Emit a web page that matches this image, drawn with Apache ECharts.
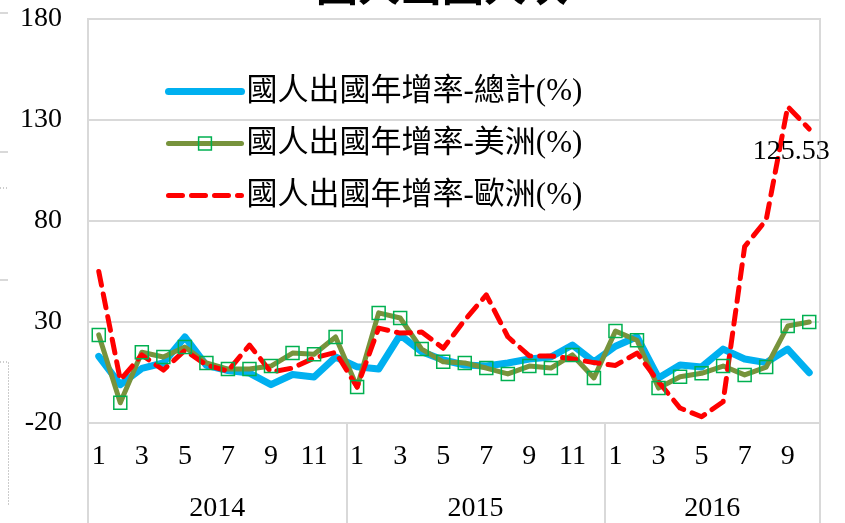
<!DOCTYPE html>
<html>
<head>
    <meta charset="utf-8" />
    <title>國人出國人次</title>
    <script src="https://cdn.jsdelivr.net/npm/echarts@6/dist/echarts.min.js"></script>
    <style type="text/css">
        html, body {
            margin: 0;
            padding: 0;
            background-color: #fff;
        }

        #charts {
            width: 845px;
            height: 523px;
        }
    </style>
</head>
<body>
    <div id="charts"></div>
    <script type="text/javascript">
        // 月份 (2014/01 ~ 2016/10)
        var months = ['1', '2', '3', '4', '5', '6', '7', '8', '9', '10', '11', '12',
            '1', '2', '3', '4', '5', '6', '7', '8', '9', '10', '11', '12',
            '1', '2', '3', '4', '5', '6', '7', '8', '9', '10'];
        var years = ['2014', '2015', '2016'];
        var yearLabelPos = [6, 18, 29];
        var yearBorders = [0, 12, 24, 34];

        var seriesNames = ['國人出國年增率-總計(%)', '國人出國年增率-美洲(%)', '國人出國年增率-歐洲(%)'];
        var totalRate = [13, -1, 7, 9.7, 22.6, 8.5, 6, 4.7, -1, 4, 2.8, 12.7,
            7.8, 6.7, 23.6, 15.3, 11.2, 8.7, 8.2, 9.7, 11.7, 12.7, 18.6, 10.3,
            18, 22.7, 2.3, 8.7, 7.7, 16.6, 11.7, 9.9, 16.6, 4.9];
        var americaRate = [23.6, -10, 15, 12.7, 17.6, 9.7, 6.7, 6.7, 8.2, 14.6, 14, 22.6,
            -2.2, 34.5, 32, 16.6, 10.3, 9.7, 7.2, 4.3, 8.2, 7.2, 13.7, 2.3,
            25.5, 21, -2.7, 2.9, 4.6, 8.2, 3.8, 7.7, 28, 30];
        var europeRate = [55, 1.3, 13.7, 6.2, 16, 8.7, 5.7, 18.6, 5.2, 7.2, 12.2, 15,
            -2.2, 27, 24.5, 25, 17, 31, 43.4, 22.7, 13.2, 13.2, 11.7, 9.9,
            8.5, 14.6, 0.4, -12.6, -16.9, -9.5, 67.3, 80.5, 136.6, 125.53];

        var serif = "'Liberation Serif', 'Times New Roman', serif";
        var mixFont = "'Liberation Serif', 'Noto Sans CJK TC', serif";
        var gridColor = '#d9d9d9';
        var noMark = { color: 'rgba(0,0,0,0)', borderColor: 'rgba(0,0,0,0)', borderWidth: 0 };

        // 最後一點顯示數值
        var europeData = europeRate.map(function (v, i) {
            if (i === europeRate.length - 1) {
                return {
                    value: v,
                    symbol: 'circle',
                    symbolSize: 1,
                    itemStyle: noMark,
                    label: {
                        show: true, position: 'bottom', distance: 8, offset: [-18, 0],
                        color: '#000', fontFamily: serif, fontSize: 28
                    }
                };
            }
            return v;
        });

        var ChartOption = {
            animation: false,
            backgroundColor: '#fff',
            graphic: [
                {
                    type: 'text', left: 442 - 126, top: -36,
                    style: { text: '國人出國人次', font: "bold 42px 'Noto Sans CJK TC'", fill: '#000' }
                },
                // 左側殘留框線
                { type: 'line', shape: { x1: 0, y1: 13, x2: 8, y2: 13 }, style: { stroke: gridColor, lineWidth: 2 } },
                { type: 'line', shape: { x1: 0, y1: 152, x2: 8, y2: 152 }, style: { stroke: gridColor, lineWidth: 2 } },
                { type: 'line', shape: { x1: 0, y1: 280, x2: 8, y2: 280 }, style: { stroke: gridColor, lineWidth: 2 } },
                { type: 'line', shape: { x1: 0, y1: 188, x2: 8, y2: 188 }, style: { stroke: '#999', lineWidth: 1, lineDash: [1, 2] } },
                { type: 'polyline', shape: { points: [[0, 362], [8.5, 362], [8.5, 506]] }, style: { stroke: '#999', lineWidth: 1, lineDash: [1, 2], fill: null } }
            ],
            legend: {
                orient: 'vertical',
                left: 160,
                top: 71,
                itemWidth: 73,
                itemHeight: 16,
                itemGap: 21,
                textStyle: { fontFamily: mixFont, fontSize: 31, color: '#000', lineHeight: 31 },
                data: [
                    {
                        name: seriesNames[0], itemStyle: noMark,
                        lineStyle: { color: '#00B0F0', width: 7, cap: 'round' }
                    },
                    {
                        name: seriesNames[1],
                        itemStyle: { color: 'rgba(255,255,255,0)', borderColor: '#00B050', borderWidth: 1.5 },
                        lineStyle: { color: '#77933C', width: 5, cap: 'round' }
                    },
                    {
                        name: seriesNames[2], itemStyle: noMark,
                        lineStyle: { color: '#FF0000', width: 5, type: [14, 9], cap: 'round' }
                    }
                ]
            },
            grid: {
                left: 88, right: 25, top: 19, bottom: 100,
                show: true, borderColor: gridColor, borderWidth: 2
            },
            xAxis: [
                {
                    type: 'category',
                    data: months,
                    boundaryGap: true,
                    axisLine: { show: false },
                    axisTick: { show: false },
                    axisLabel: {
                        interval: function (index) { return index % 2 === 0; },
                        margin: 20, fontFamily: serif, fontSize: 28, color: '#000'
                    }
                },
                {
                    type: 'value',
                    min: 0, max: 34,
                    position: 'bottom',
                    axisLine: { show: false },
                    splitLine: { show: false },
                    axisTick: {
                        show: true, customValues: yearBorders, length: 100,
                        lineStyle: { color: gridColor, width: 2 }
                    },
                    axisLabel: {
                        customValues: yearLabelPos, margin: 72,
                        fontFamily: serif, fontSize: 28, color: '#000',
                        formatter: function (v) { return years[yearLabelPos.indexOf(v)]; }
                    }
                }
            ],
            yAxis: {
                type: 'value',
                min: -20, max: 180, interval: 50,
                axisLine: { show: false },
                axisTick: { show: false },
                splitLine: { lineStyle: { color: gridColor, width: 2 } },
                axisLabel: { margin: 26, fontFamily: serif, fontSize: 28, color: '#000' }
            },
            series: [
                {
                    name: seriesNames[0], type: 'line', data: totalRate,
                    symbol: 'none', color: '#00B0F0',
                    lineStyle: { color: '#00B0F0', width: 7, cap: 'round', join: 'round' }
                },
                {
                    name: seriesNames[1], type: 'line', data: americaRate,
                    symbol: 'rect', symbolSize: 13, color: '#77933C',
                    lineStyle: { color: '#77933C', width: 5, cap: 'round', join: 'round' },
                    itemStyle: { color: 'rgba(255,255,255,0)', borderColor: '#00B050', borderWidth: 1.5 }
                },
                {
                    name: seriesNames[2], type: 'line', data: europeData,
                    symbol: 'none', color: '#FF0000',
                    lineStyle: { color: '#FF0000', width: 5, type: [14, 9], cap: 'round', join: 'round' }
                }
            ]
        };

        var myChart = echarts.init(document.getElementById('charts'), null, { renderer: 'canvas' });
        myChart.setOption(ChartOption);
        window.onresize = myChart.resize;
    </script>
</body>
</html>
